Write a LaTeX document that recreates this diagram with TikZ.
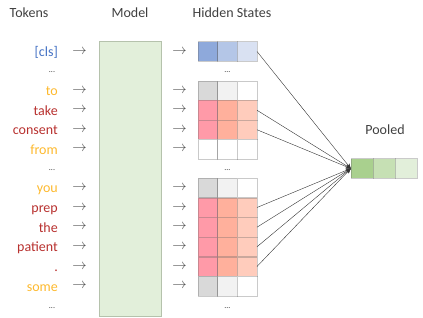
\documentclass[tikz,border=0pt]{standalone}
\usepackage{fontspec}
\setmainfont{Carlito}
\usetikzlibrary{positioning, arrows.meta, calc}
\usepackage{xcolor}
\definecolor{clsblue}{HTML}{4472C4}
\definecolor{tokgold}{HTML}{FDB92E}
\definecolor{tokred}{HTML}{B8312F}
\definecolor{gridgrey}{HTML}{BFBFBF}
\definecolor{clsA}{HTML}{8EA9DB}
\definecolor{clsB}{HTML}{B4C6E7}
\definecolor{clsC}{HTML}{D9E1F2}
\definecolor{greyA}{HTML}{D9D9D9}
\definecolor{greyB}{HTML}{F2F2F2}
\definecolor{redA}{HTML}{FF9AA8}
\definecolor{redB}{HTML}{FFB09C}
\definecolor{redC}{HTML}{FFCCBC}
\definecolor{poolA}{HTML}{A9D08E}
\definecolor{poolB}{HTML}{C6E0B4}
\definecolor{poolC}{HTML}{E2EFDA}
\definecolor{modelfill}{HTML}{E2EFDA}
\definecolor{modeldraw}{HTML}{B5C2AC}
\tikzset{
    cell/.style={
        rectangle,
        draw=black!60,
        draw opacity=0.35,
        minimum width=19.6pt,
        minimum height=19.6pt,
        inner sep=0pt
    },
    token/.style={
        anchor=base east,
        inner sep=0pt,
        font=\fontsize{14}{16}\selectfont
    },
    header/.style={
        inner sep=0pt,
        font=\fontsize{14}{16}\selectfont,
        text=black!75
    },
    gap/.style={
        inner sep=0pt,
        font=\fontsize{8}{10}\selectfont,
        text=black!80
    },
    feed/.style={
        inner sep=0pt,
        font=\fontsize{14}{16}\selectfont,
        text=black!70
    },
    pooledge/.style={
        black!80,
        -{Stealth[length=5pt,width=4pt]}
    }
}
\begin{document}
\begin{tikzpicture}[x=1pt,y=-1pt]

      \useasboundingbox (0,0) rectangle (423,318);

      % headers
      \node[header] (hTok) at (29,13) {Tokens};
      \node[header] (hMod) at (130,13) {Model};
      \node[header] (hHid) at (232,13) {Hidden States};

      % model
      \node[rectangle, draw=modeldraw, fill=modelfill, minimum width=62pt,
        minimum height=275pt, inner sep=0pt] (model) at (130,178.5) {};

      % tokens and arrows
      \foreach \i/\w/\col/\y in {
          1/{[cls]}/clsblue/51.5,
          2/to/tokgold/90.75,
          3/take/tokred/110.25,
          4/consent/tokred/129.75,
          5/from/tokgold/149.25,
          6/you/tokgold/187.8,
          7/prep/tokred/207.5,
          8/the/tokred/227.2,
          9/patient/tokred/246.8,
          10/./tokred/266.5,
          11/some/tokgold/286.2}
        {
          \node[token, text=\col] (t\i) at (58,\y+5) {\w};
          \node[feed] (fa\i) at (79.5,\y) {$\rightarrow$};
          \node[feed] (fb\i) at (179.5,\y) {$\rightarrow$};
        }

      \node[gap] (d1) at (52,72) {...};
      \node[gap] (d2) at (52,170) {...};
      \node[gap] (d3) at (52,308) {...};
      \node[gap] (d4) at (227.4,72) {...};
      \node[gap] (d5) at (227.4,170) {...};
      \node[gap] (d6) at (227.4,308) {...};

      % hidden states
      \foreach \c/\col in {1/clsA,2/clsB,3/clsC}
        {
          \node[cell, fill=\col] (s\c) at ({188.2+19.6*\c},51.5) {};
        }

      \foreach \r/\y/\ca/\cb/\cc in {
          1/90.75/greyA/greyB/white,
          2/110.25/redA/redB/redC,
          3/129.75/redA/redB/redC,
          4/149.25/white/white/white}
        {
          \foreach \c/\col in {1/\ca,2/\cb,3/\cc}
            \node[cell, fill=\col] (a\r\c) at ({188.2+19.6*\c},\y) {};
        }

      \foreach \r/\y/\ca/\cb/\cc in {
          1/187.8/greyA/greyB/white,
          2/207.5/redA/redB/redC,
          3/227.2/redA/redB/redC,
          4/246.8/redA/redB/redC,
          5/266.5/redA/redB/redC,
          6/286.2/greyA/greyB/white}
        {
          \foreach \c/\col in {1/\ca,2/\cb,3/\cc}
            \node[cell, fill=\col] (b\r\c) at ({188.2+19.6*\c},\y) {};
        }

      % pooled
      \foreach \c/\col in {1/poolA,2/poolB,3/poolC}
        {
          \node[cell, minimum width=22pt, fill=\col] (p\c) at ({340+22*\c},168.5) {};
        }
      \node[header] (hPool) at (385,130) {Pooled};

      \foreach \n in {s3,a23,a33,b23,b33,b43,b53}
        {
          \draw[pooledge] (\n.east) -- (p1.west);
        }

    \end{tikzpicture}
\end{document}
